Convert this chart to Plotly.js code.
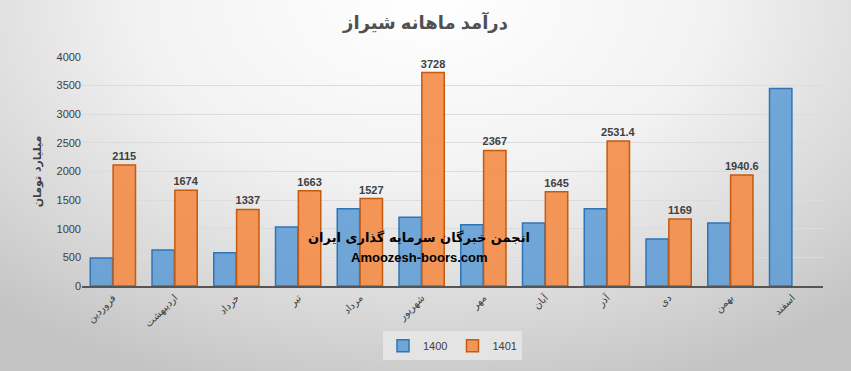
<!DOCTYPE html>
<html>
<head>
<meta charset="utf-8">
<script src="https://cdn.plot.ly/plotly-3.0.1.min.js"></script>
<style>
html,body{margin:0;padding:0;}
#wrap{width:851px;height:371px;background:radial-gradient(ellipse 75% 110% at 50% 0%, #ffffff 0%, #f2f2f2 45%, #d6d6d6 80%, #c4c4c4 100%);}
#chart{width:851px;height:371px;}
</style>
</head>
<body>
<div id="wrap"><div id="chart"></div></div>
<script>
const months = ['فروردین','اردیبهشت','خرداد','تیر','مرداد','شهریور','مهر','آبان','آذر','دی','بهمن','اسفند'];
const v1400 = [490, 630, 580, 1030, 1350, 1200, 1070, 1100, 1350, 820, 1100, 3450];
const v1401 = [2115, 1674, 1337, 1663, 1527, 3728, 2367, 1645, 2531.4, 1169, 1940.6, null];
const labels1401 = ['2115','1674','1337','1663','1527','3728','2367','1645','2531.4','1169','1940.6',''];
const yTicks = [0,500,1000,1500,2000,2500,3000,3500,4000];

const fontAr = 'Liberation Sans, DejaVu Sans, sans-serif';

const traces = [
  {
    type:'bar', name:'1400', x:months, y:v1400,
    marker:{color:'rgba(91,155,213,0.85)', line:{color:'#2e75b6', width:1.5}},
    hoverinfo:'x+y'
  },
  {
    type:'bar', name:'1401', x:months, y:v1401,
    text:labels1401, textposition:'outside', cliponaxis:false, constraintext:'none',
    textfont:{family:fontAr, size:11, color:'#404040', weight:'bold'},
    marker:{color:'rgba(244,140,70,0.9)', line:{color:'#c55a11', width:1.5}},
    hoverinfo:'x+y'
  }
];

const layout = {
  width:851, height:371,
  paper_bgcolor:'rgba(0,0,0,0)', plot_bgcolor:'rgba(0,0,0,0)',
  margin:{l:82, r:28, t:57, b:84},
  barmode:'group', bargap:0.26, bargroupgap:0.02,
  font:{family:fontAr, color:'#404040'},
  title:{text:'<b>درآمد ماهانه شیراز</b>', x:0.5, xanchor:'center', y:0.94, yanchor:'middle',
         font:{family:fontAr, size:18, color:'#505050'}},
  xaxis:{
    tickangle:-45, tickfont:{family:'DejaVu Sans, sans-serif', size:10, color:'#404040'},
    showline:true, linecolor:'#555555', linewidth:2, ticks:'', showgrid:false,
    fixedrange:true
  },
  yaxis:{
    range:[0,4000], tickvals:yTicks, ticktext:yTicks.map(String),
    tickfont:{family:fontAr, size:11, color:'#404040'},
    showgrid:true, gridcolor:'#dcdcdc', gridwidth:1, zeroline:false,
    showline:false, ticks:'', ticklen:0,
    title:{text:'<b>میلیارد تومان</b>', standoff:12, font:{family:'DejaVu Sans, sans-serif', size:11, color:'#404040'}},
    fixedrange:true
  },
  legend:{
    orientation:'h', x:0.5, xanchor:'center', y:-0.255, yanchor:'middle',
    bgcolor:'rgba(232,232,232,0.8)', font:{family:fontAr, size:11, color:'#404040'},
    itemwidth:30, tracegroupgap:0
  },
  annotations:[
    {text:'<b>انجمن خبرگان سرمایه گذاری ایران</b>', xref:'paper', yref:'paper', x:0.455, y:0.17,
     showarrow:false, font:{family:'DejaVu Sans, sans-serif', size:13, color:'#000000'}},
    {text:'<b>Amoozesh-boors.com</b>', xref:'paper', yref:'paper', x:0.455, y:0.085,
     showarrow:false, font:{family:fontAr, size:13, color:'#000000'}}
  ]
};

Plotly.newPlot('chart', traces, layout, {displayModeBar:false, staticPlot:true});
</script>
</body>
</html>
